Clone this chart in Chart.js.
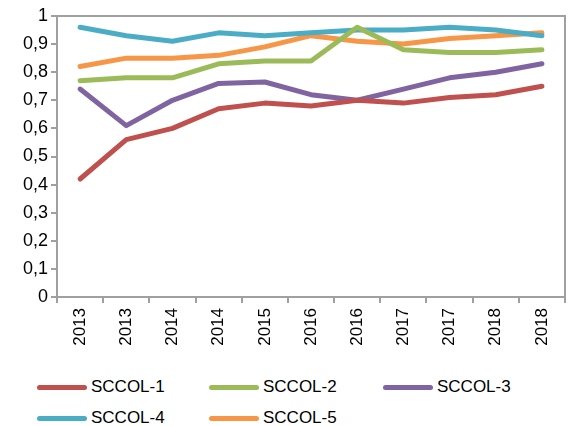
<!DOCTYPE html>
<html>
<head>
<meta charset="utf-8">
<script src="https://cdn.jsdelivr.net/npm/chart.js@4/dist/chart.umd.min.js"></script>
<style>
  body { margin: 0; background: #fff; font-family: "Liberation Sans", Arial, sans-serif; }
  #wrap { position: relative; width: 569px; height: 426px; }
  #legend { position: absolute; left: 0; top: 377px; width: 569px; }
  .lg { position: absolute; display: flex; align-items: center; font-size: 17px; color: #000; }
  .lg i { display: inline-block; width: 50px; height: 5px; border-radius: 3px; margin-right: 4px; }
</style>
</head>
<body>
<div id="wrap">
  <canvas id="c" width="569" height="362"></canvas>
  <div id="legend"></div>
</div>
<script>
// ── data ────────────────────────────────────────────────────────────────
const labels = ['2013', '2013', '2014', '2014', '2015', '2016', '2016', '2017', '2017', '2018', '2018'];
const yTickLabels = ['0', '0,1', '0,2', '0,3', '0,4', '0,5', '0,6', '0,7', '0,8', '0,9', '1'];
const seriesNames = ['SCCOL-1', 'SCCOL-2', 'SCCOL-3', 'SCCOL-4', 'SCCOL-5'];
const sccol1 = [0.42, 0.56, 0.60, 0.67, 0.69, 0.68, 0.70, 0.69, 0.71, 0.72, 0.75];
const sccol2 = [0.77, 0.78, 0.78, 0.83, 0.84, 0.84, 0.96, 0.88, 0.87, 0.87, 0.88];
const sccol3 = [0.74, 0.61, 0.70, 0.76, 0.765, 0.72, 0.70, 0.74, 0.78, 0.80, 0.83];
const sccol4 = [0.96, 0.93, 0.91, 0.94, 0.93, 0.94, 0.95, 0.95, 0.96, 0.95, 0.93];
const sccol5 = [0.82, 0.85, 0.85, 0.86, 0.89, 0.93, 0.91, 0.90, 0.92, 0.93, 0.94];
const colors = ['#C0504D', '#9BBB59', '#8064A2', '#4BACC6', '#F79646'];

const values = [sccol1, sccol2, sccol3, sccol4, sccol5];
const AXIS = '#A0A0A0';

// plot border (top/right lines of the frame)
const frame = {
  id: 'frame',
  beforeDatasetsDraw(chart) {
    const { ctx, chartArea: a } = chart;
    ctx.save();
    ctx.strokeStyle = AXIS;
    ctx.lineWidth = 2;
    ctx.strokeRect(a.left, a.top, a.right - a.left, a.bottom - a.top);
    ctx.restore();
  }
};

new Chart(document.getElementById('c'), {
  type: 'line',
  data: {
    labels,
    datasets: values.map((v, i) => ({
      label: seriesNames[i], data: v, borderColor: colors[i], backgroundColor: colors[i],
      borderWidth: 5, pointRadius: 0, tension: 0, borderCapStyle: 'round', borderJoinStyle: 'round'
    }))
  },
  options: {
    responsive: false, animation: false,
    layout: { padding: { top: 16, right: 4, left: 0, bottom: 0 } },
    plugins: { legend: { display: false }, tooltip: { enabled: false } },
    scales: {
      x: {
        offset: true,
        grid: { offset: true, drawOnChartArea: false, color: AXIS, lineWidth: 2, tickLength: 6 },
        border: { color: AXIS, width: 2 },
        ticks: { color: '#000', font: { family: 'Liberation Sans', size: 17 }, minRotation: 90, maxRotation: 90, autoSkip: false, padding: 5 },
        afterFit: s => { s.height = 65; }
      },
      y: {
        min: 0, max: 1,
        grid: { drawOnChartArea: false, color: AXIS, lineWidth: 2, tickLength: 6 },
        border: { color: AXIS, width: 2 },
        ticks: { stepSize: 0.1, color: '#000', font: { family: 'Liberation Sans', size: 18 }, padding: 3,
                 callback: (v, i) => yTickLabels[i] },
        afterFit: s => { s.width = 57; }
      }
    }
  },
  plugins: [frame]
});

// legend
const cols = [37, 209, 383];
document.getElementById('legend').innerHTML = seriesNames.map((n, i) => {
  const x = cols[i % 3], y = Math.floor(i / 3) * 31;
  return `<div class="lg" style="left:${x}px;top:${y}px"><i style="background:${colors[i]}"></i>${n}</div>`;
}).join('');
</script>
</body>
</html>
